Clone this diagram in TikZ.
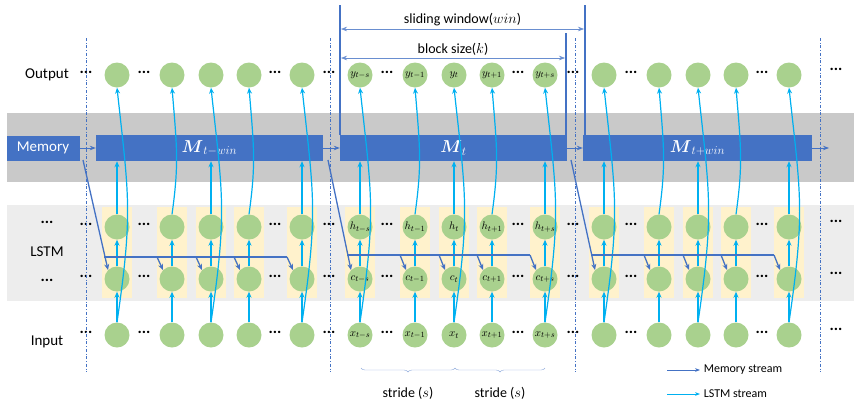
\documentclass[tikz,border=0pt]{standalone}
\usepackage{fontspec}
\setmainfont{Carlito}
\usepackage{amsmath}
\usetikzlibrary{arrows.meta,decorations.pathreplacing}
\definecolor{gr}{HTML}{A9D18E}
\definecolor{mb}{HTML}{4472C4}
\definecolor{cy}{HTML}{00B0F0}
\definecolor{band}{HTML}{C9C9C9}
\definecolor{lband}{HTML}{EDEDED}
\definecolor{yel}{HTML}{FFF2CC}
\begin{document}
\begin{tikzpicture}[x=1pt,y=-1pt,
  cell/.style={circle,fill=gr,minimum size=25pt,inner sep=0pt,font=\fontsize{11}{12}\selectfont},
  dots/.style={font=\bfseries\fontsize{16}{16}\selectfont,inner sep=0pt},
  lab/.style={font=\fontsize{15}{17}\selectfont},
  mem/.style={fill=mb,text=white,inner sep=0pt},
  ms/.style={mb,line width=1.3pt,-{Stealth[length=6pt,width=5pt]}},
  ls/.style={cy,line width=1.2pt,-{Stealth[length=6pt,width=5pt]}},
  dd/.style={mb,dash dot,line width=0.9pt}]
\useasboundingbox (0,0) rectangle (854,408);
% bands
\fill[band] (7,113) rectangle (854,182);
\fill[lband] (7,205) rectangle (854,301);
% memory bars
\node[mem,minimum width=73pt,minimum height=25pt,font=\fontsize{15}{17}\selectfont] (memory) at (43,148) {Memory};
\node[mem,minimum width=227pt,minimum height=26pt,font=\fontsize{17}{19}\selectfont] (m1) at (209.5,148) {$\boldsymbol{M}_{t-win}$};
\node[mem,minimum width=227pt,minimum height=26pt,font=\fontsize{17}{19}\selectfont] (m2) at (453.5,148) {$\boldsymbol{M}_{t}$};
\node[mem,minimum width=229pt,minimum height=26pt,font=\fontsize{17}{19}\selectfont] (m3) at (697.5,148) {$\boldsymbol{M}_{t+win}$};
\coordinate (mend) at (829,148);
\draw[mb,line width=0.8pt,-{Stealth[length=6pt]}] (memory.east) -- (m1.west);
\draw[mb,line width=0.8pt,-{Stealth[length=6pt]}] (m1.east) -- (m2.west);
\draw[mb,line width=0.8pt,-{Stealth[length=6pt]}] (m2.east) -- (m3.west);
\draw[mb,line width=0.8pt,-{Stealth[length=6pt]}] (m3.east) -- (mend);
% labels
\node[lab] (tout) at (47,75) {Output};
\node[dots] (tl1) at (47,222) {...};
\node[lab] (tlstm) at (47,252) {LSTM};
\node[dots] (tl2) at (47,280) {...};
\node[lab] (tin) at (47,342) {Input};
% yellow
\foreach \off in {0,243,487}{
  \foreach \cx in {117,172,211,249,302}{
    \pgfmathsetmacro{\X}{\cx+\off}
    \fill[yel] (\X-15,207) rectangle (\X+15,298);
  }
}
\foreach \b/\off in {1/0,3/487}{
  \foreach \i/\cx in {1/117,2/172,3/211,4/249,5/302}{
    \pgfmathsetmacro{\X}{\cx+\off}
    \node[cell] (y\b\i) at (\X,75) {};
    \node[cell] (h\b\i) at (\X,227) {};
    \node[cell] (c\b\i) at (\X,279) {};
    \node[cell] (x\b\i) at (\X,335) {};
  }
}
\foreach \i/\cx/\s in {1/117/{t-s},2/172/{t-1},3/211/{t},4/249/{t+1},5/302/{t+s}}{
  \pgfmathsetmacro{\X}{\cx+243}
  \node[cell] (y2\i) at (\X,75) {$y_{\s}$};
  \node[cell] (h2\i) at (\X,227) {$h_{\s}$};
  \node[cell] (c2\i) at (\X,279) {$c_{\s}$};
  \node[cell] (x2\i) at (\X,335) {$x_{\s}$};
}
% dots
\foreach \b/\off in {1/0,2/243,3/487}{
  \foreach \yy [count=\k] in {75,227,279,335}{
    \node[dots] (da\b\k) at (86+\off,\yy-3) {...};
    \node[dots] (db\b\k) at (144+\off,\yy-3) {...};
    \node[dots] (dc\b\k) at (275+\off,\yy-3) {...};
  }
}
\foreach \yy [count=\k] in {75,227,279,335}{
  \node[dots] (de\k) at (836,\yy-6) {...};
}
% LSTM streams
\foreach \b/\mm in {1/m1,2/m2,3/m3}{
  \foreach \i in {1,...,5}{
    \draw[ls] (x\b\i) -- (c\b\i);
    \draw[ls] (c\b\i) -- (h\b\i);
  }
  \foreach \i in {1,3,5}{
    \draw[ls] (h\b\i.north) -- (h\b\i.north |- \mm.south);
    \draw[ls] (x\b\i.north) .. controls ([xshift=16pt,yshift=110pt]x\b\i.north) and ([xshift=12pt,yshift=-110pt]y\b\i.south) .. (y\b\i.south);
  }
  \foreach \i in {2,4}{
    \draw[ls] (h\b\i.north) .. controls ([xshift=7pt,yshift=50pt]h\b\i.north) and ([xshift=5pt,yshift=-60pt]y\b\i.south) .. (y\b\i.south);
  }
}
% memory streams
\coordinate (s1) at (83,160);
\coordinate (s2) at (328,160);
\coordinate (s3) at (571,160);
\foreach \b/\hy in {1/257,2/255,3/255}{
  \draw[ms] (s\b) -- (c\b1.north west);
  \draw[mb,line width=1.3pt] ([xshift=-4pt]c\b1.north west |- 0,\hy) -- ([xshift=-6pt]c\b5.north west |- 0,\hy);
  \foreach \i in {2,...,5}{
    \draw[ms] ([xshift=-6pt]c\b\i.north west |- 0,\hy) -- (c\b\i.north west);
  }
}
% dash-dot lines
\foreach \xx [count=\k] in {86,330,575,820}{
  \coordinate (dt\k) at (\xx,38);
  \coordinate (dbb\k) at (\xx,372);
  \draw[dd] (dt\k) -- (dbb\k);
}
% window
\coordinate (w1t) at (340,5); \coordinate (w1b) at (340,135);
\coordinate (w2t) at (585,5); \coordinate (w2b) at (585,135);
\coordinate (k2t) at (566,33); \coordinate (k2b) at (566,135);
\draw[mb,line width=2.4pt] (w1t) -- (w1b);
\draw[mb,line width=2.4pt] (w2t) -- (w2b);
\draw[mb,line width=2pt] (k2t) -- (k2b);
\coordinate (wa) at (341,29); \coordinate (wb) at (584,29);
\coordinate (ka) at (341,58); \coordinate (kb) at (565,58);
\draw[mb!80,line width=0.6pt,{Stealth[length=6pt]}-{Stealth[length=6pt]}] (wa) -- node[above,black,font=\fontsize{14}{16}\selectfont,yshift=-1pt]{sliding window($win$)} (wb);
\draw[mb!80,line width=0.6pt,{Stealth[length=6pt]}-{Stealth[length=6pt]}] (ka) -- node[above,black,font=\fontsize{14}{16}\selectfont,yshift=-1pt]{block size($k$)} (kb);
% stride braces
\coordinate (b1) at (361,368); \coordinate (b2) at (455,368); \coordinate (b3) at (545,368);
\draw[mb!60,decorate,decoration={brace,mirror,amplitude=4pt}] (b1) -- (b2);
\draw[mb!60,decorate,decoration={brace,mirror,amplitude=4pt}] (b2) -- (b3);
\node[font=\fontsize{14}{16}\selectfont] (st1) at (408,393) {stride ($s$)};
\node[font=\fontsize{14}{16}\selectfont] (st2) at (500,393) {stride ($s$)};
% legend
\coordinate (l1a) at (667,370); \coordinate (l1b) at (700,370);
\coordinate (l2a) at (667,394); \coordinate (l2b) at (700,394);
\draw[mb,line width=1pt,-{Stealth[length=5pt]}] (l1a) -- (l1b) node[right,black,font=\fontsize{12}{14}\selectfont] (lg1) {Memory stream};
\draw[cy,line width=1pt,-{Stealth[length=5pt]}] (l2a) -- (l2b) node[right,black,font=\fontsize{12}{14}\selectfont] (lg2) {LSTM stream};
\end{tikzpicture}
\end{document}
